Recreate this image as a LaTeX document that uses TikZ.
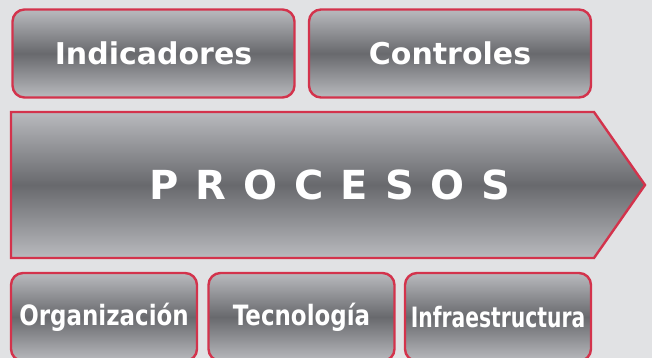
\documentclass[tikz,border=0pt]{standalone}
\usepackage{fontspec}
\setmainfont{DejaVu Sans}
\usetikzlibrary{positioning}
\definecolor{fondo}{HTML}{E1E2E4}
\definecolor{borde}{HTML}{D3334C}
\definecolor{claro}{HTML}{B9BABE}
\definecolor{oscuro}{HTML}{68696D}
\tikzset{
  relleno/.style={top color=claro, bottom color=claro, middle color=oscuro},
  caja/.style={relleno, draw=borde, line width=2.4pt, rounded corners=12pt,
    text=white, font=\bfseries\fontsize{30}{30}\selectfont},
  cajaarriba/.style={caja, minimum width=282pt, minimum height=88pt},
  cajaabajo/.style={caja, minimum width=186pt, minimum height=88pt,
    font=\bfseries\fontsize{28}{28}\selectfont},
  titulo/.style={text=white, font={\bfseries\fontsize{40}{40}\selectfont\spaceskip=17pt\relax}},
}
\newcommand{\angosto}[2]{\scalebox{#1}[1]{#2}}
\begin{document}
\begin{tikzpicture}[x=1pt, y=-1pt]
\useasboundingbox (0,0) rectangle (652,358);
\clip (0,0) rectangle (652,358);
\fill[fondo] (0,0) rectangle (652,358);
% fila de arriba
\node[cajaarriba] (indicadores) at (153.5,53.5) {Indicadores};
\node[cajaarriba] (controles) at (450,53.5) {Controles};
% flecha central
\path[relleno, draw=borde, line width=2.4pt] (11,112) -- (594,112) -- (645,185) -- (594,258) -- (11,258) -- cycle;
\node[titulo] (procesos) at (330,185) {P R O C E S O S};
% fila de abajo
\node[cajaabajo] (organizacion) at (104,317) {\angosto{0.82}{Organización}};
\node[cajaabajo] (tecnologia) at (301.5,317) {\angosto{0.82}{Tecnología}};
\node[cajaabajo] (infraestructura) at (498,317) {\angosto{0.725}{Infraestructura}};
\end{tikzpicture}
\end{document}
